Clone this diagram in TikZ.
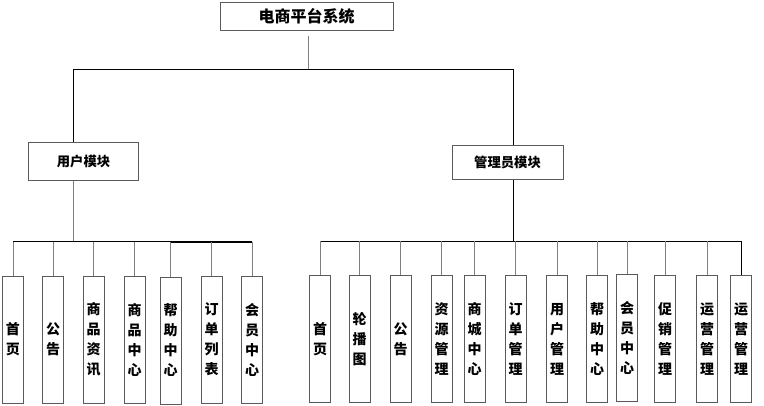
\documentclass[tikz,border=0pt]{standalone}
\usepackage{fontspec}
\setmainfont{Noto Sans CJK SC}
\definecolor{edgegray}{HTML}{5A5A5A}
\definecolor{linkgray}{HTML}{7F7F7F}

\begin{document}
\begin{tikzpicture}[x=0.75pt, y=-0.75pt, line width=0.75pt,
    topbox/.style={rectangle, draw=edgegray, minimum width=129.75pt, minimum height=21pt, font=\bfseries\fontsize{12}{14}\selectfont},
    modbox/.style={rectangle, draw=edgegray, minimum width=82pt, minimum height=27pt, font=\bfseries\fontsize{10}{12}\selectfont},
    leafbox/.style={rectangle, draw=edgegray, minimum width=15.75pt, minimum height=95.25pt, inner sep=0pt, align=center, font=\bfseries\fontsize{10.5}{15}\selectfont},
    link/.style={draw=linkgray},
    bus/.style={draw=black}]
    \useasboundingbox (0,0) rectangle (764,405);

    % Root system
    \node[topbox] (root) at (306.5,16) {电商平台系统};

    % Two modules
    \node[modbox, minimum height=28.5pt] (user) at (83.5,161) {用户模块};
    \node[modbox, minimum width=83.25pt, minimum height=25.5pt] (admin) at (507.5,162) {管理员模块};

    % Bus points
    \coordinate (mbus) at (308,69);
    \coordinate (ubus) at (73,241.5);
    \coordinate (abus) at (513,241);

    % Root to modules
    \draw[link, shorten <=4pt] (root.south -| mbus) -- (mbus);
    \draw[bus] (mbus) -| (user.north -| ubus);
    \draw[bus] (mbus) -| (admin.north -| abus);
    \draw[link] (user.south -| ubus) -- (ubus);
    \draw[bus] (admin.south -| abus) -- (abus);

    % User module pages
    \node[leafbox] (u1) at (13,339.5) {首\\页};
    \node[leafbox] (u2) at (53,339.5) {公\\告};
    \node[leafbox] (u3) at (93.5,339.5) {商\\品\\资\\讯};
    \node[leafbox] (u4) at (134.5,339.5) {商\\品\\中\\心};
    \node[leafbox] (u5) at (170.5,340.5) {帮\\助\\中\\心};
    \node[leafbox] (u6) at (211.5,339.5) {订\\单\\列\\表};
    \node[leafbox] (u7) at (252,339.5) {会\\员\\中\\心};

    \draw[bus] (ubus -| u1) -- (ubus -| u7);
    \draw[bus, line width=1.5pt] (ubus -| u5) -- (ubus -| u7);
    \draw[link] (ubus -| u1) -- (u1.north);
    \draw[link] (ubus -| u2) -- (u2.north);
    \draw[link] (ubus -| u3) -- (u3.north);
    \draw[link] (ubus -| u4) -- (u4.north);
    \draw[link] (ubus -| u5) -- (u5.north);
    \draw[link] (ubus -| u6) -- (u6.north);
    \draw[link] (ubus -| u7) -- (u7.north);

    % Admin module pages
    \node[leafbox] (a1) at (320,339) {首\\页};
    \node[leafbox] (a2) at (359.5,339) {轮\\播\\图};
    \node[leafbox] (a3) at (400.5,339) {公\\告};
    \node[leafbox] (a4) at (441.5,339) {资\\源\\管\\理};
    \node[leafbox] (a5) at (474.5,339) {商\\城\\中\\心};
    \node[leafbox] (a6) at (515.5,339) {订\\单\\管\\理};
    \node[leafbox] (a7) at (557,339) {用\\户\\管\\理};
    \node[leafbox] (a8) at (597,339) {帮\\助\\中\\心};
    \node[leafbox] (a9) at (627,338) {会\\员\\中\\心};
    \node[leafbox] (a10) at (665,339) {促\\销\\管\\理};
    \node[leafbox] (a11) at (707,339) {运\\营\\管\\理};
    \node[leafbox] (a12) at (741,339) {运\\营\\管\\理};

    \draw[bus] (abus -| a1) -- (abus -| a12);
    \draw[link] (abus -| a1) -- (a1.north);
    \draw[link] (abus -| a2) -- (a2.north);
    \draw[link] (abus -| a3) -- (a3.north);
    \draw[link] (abus -| a4) -- (a4.north);
    \draw[link] (abus -| a5) -- (a5.north);
    \draw[link] (abus -| a6) -- (a6.north);
    \draw[link] (abus -| a7) -- (a7.north);
    \draw[link] (abus -| a8) -- (a8.north);
    \draw[link] (abus -| a9) -- (a9.north);
    \draw[link] (abus -| a10) -- (a10.north);
    \draw[link] (abus -| a11) -- (a11.north);
    \draw[bus] (abus -| a12) -- (a12.north);
\end{tikzpicture}
\end{document}
